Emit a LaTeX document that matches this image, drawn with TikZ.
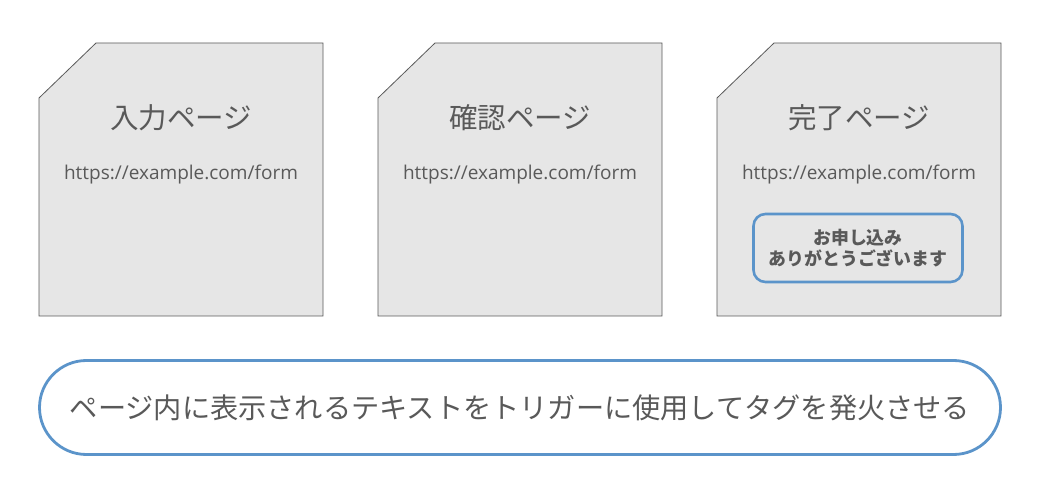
\documentclass[tikz,border=0pt]{standalone}
\usepackage{fontspec}
\setmainfont{Noto Sans CJK JP}
\newfontfamily\urlfont{Open Sans}
\definecolor{pagefill}{RGB}{230,230,230}
\definecolor{pageline}{RGB}{89,89,89}
\definecolor{textgray}{RGB}{89,89,89}
\definecolor{accent}{RGB}{91,148,202}
\tikzset{
  page/.style={draw=pageline, fill=pagefill, line width=0.8pt},
  title/.style={text=textgray, font=\fontsize{28.5}{32}\selectfont},
  addr/.style={text=textgray, font=\urlfont\fontsize{19}{22}\selectfont},
  notice/.style={draw=accent, line width=2.6pt, rounded corners=12pt, fill=pagefill,
    minimum width=209pt, minimum height=68pt, align=center, text=textgray,
    font=\bfseries\fontsize{17.9}{21}\selectfont},
  pill/.style={draw=accent, line width=2.8pt, rounded corners=47pt, fill=white,
    minimum width=961pt, minimum height=94pt, text=textgray,
    font=\fontsize{28.2}{32}\selectfont}
}
\begin{document}
\begin{tikzpicture}[x=1pt, y=-1pt]
    \useasboundingbox (0,0) rectangle (1055,494);
    % pages
    \draw [page] (39,98) -- (96,43) -- (323,43) -- (323,316) -- (39,316) -- cycle;
    \draw [page] (378,98) -- (435,43) -- (662,43) -- (662,316) -- (378,316) -- cycle;
    \draw [page] (717,98) -- (774,43) -- (1001,43) -- (1001,316) -- (717,316) -- cycle;
    \node [title] (input) at (181,118) {入力ページ};
    \node [title] (confirm) at (520,118) {確認ページ};
    \node [title] (done) at (859,118) {完了ページ};
    \node [addr] (inputurl) at (181,174.5) {https://example.com/form};
    \node [addr] (confirmurl) at (520,174.5) {https://example.com/form};
    \node [addr] (doneurl) at (859,174.5) {https://example.com/form};
    \node [notice] (thanks) at (858,248) {お申し込み\\ありがとうございます};
    \node [pill] (trigger) at (520,407.5) {ページ内に表示されるテキストをトリガーに使用してタグを発火させる};
\end{tikzpicture}
\end{document}
